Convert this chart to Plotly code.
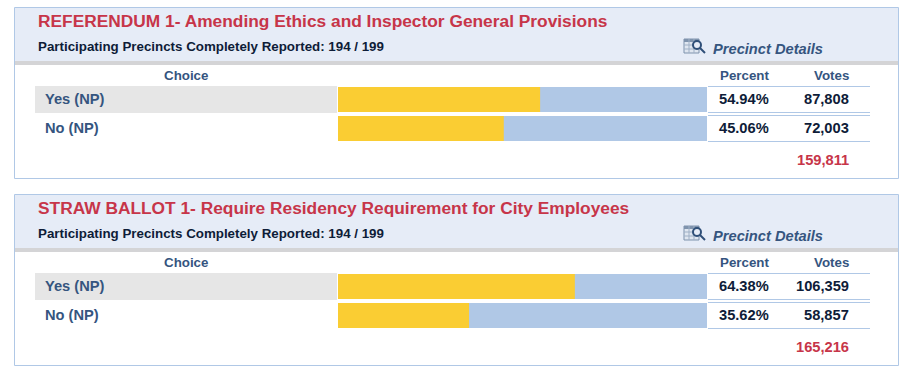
import plotly.graph_objects as go

W, H = 902, 371
TITLES = ["REFERENDUM 1- Amending Ethics and Inspector General Provisions",
          "STRAW BALLOT 1- Require Residency Requirement for City Employees"]
SUBTITLE = "Participating Precincts Completely Reported: 194 / 199"
LINK = "Precinct Details"
CHOICES = ["Yes (NP)", "No (NP)"]
PCT_1 = [54.94, 45.06]
PCT_2 = [64.38, 35.62]
VOTES_1 = ["87,808", "72,003"]
VOTES_2 = ["106,359", "58,857"]
TOTALS = ["159,811", "165,216"]
TRACK = 100.3

RED, NAVY, BLUE, INK = "#c73549", "#35557f", "#b0c8e6", "#0e1c38"
YELLOW, HEAD, BAND, ROW = "#facd33", "#e6ecf7", "#d4d4d6", "#e6e6e6"
FONT = "Liberation Sans, Arial, sans-serif"
px = lambda v: v / W
py = lambda v: 1 - v / H

shapes, notes = [], []

def rect(x0, y0, x1, y1, fill, line=None, width=1, layer="below"):
    shapes.append(dict(type="rect", xref="paper", yref="paper", x0=px(x0), x1=px(x1),
                       y0=py(y0), y1=py(y1), fillcolor=fill, layer=layer,
                       line=dict(color=line or fill, width=width if line else 0)))

def hline(x0, x1, y, color=BLUE, width=1, layer="below"):
    shapes.append(dict(type="line", xref="paper", yref="paper", x0=px(x0), x1=px(x1),
                       y0=py(y), y1=py(y), layer=layer, line=dict(color=color, width=width)))

def seg(x0, y0, x1, y1, color, width):
    shapes.append(dict(type="line", xref="paper", yref="paper", x0=px(x0), x1=px(x1),
                       y0=py(y0), y1=py(y1), layer="above", line=dict(color=color, width=width)))

def text(x, y, s, size, color, anchor="left", italic=False):
    notes.append(dict(x=px(x), y=py(y), xref="paper", yref="paper", text=s, showarrow=False,
                      xanchor=anchor, yanchor="middle", borderpad=0, borderwidth=0,
                      font=dict(family=FONT, size=size, color=color, weight="bold",
                                style="italic" if italic else "normal")))

def icon(dy):
    x0, y0 = 684, 39 + dy
    rect(x0, y0, x0 + 15, y0 + 14, "#dfe6f0", "#7f93ad", 1, "above")
    rect(x0, y0, x0 + 15, y0 + 3, "#7f93ad", None, 0, "above")
    for k in (5, 10):
        seg(x0 + k, y0, x0 + k, y0 + 14, "#9fb0c6", 1)
    for k in (6, 10):
        seg(x0, y0 + k, x0 + 15, y0 + k, "#9fb0c6", 1)
    shapes.append(dict(type="circle", xref="paper", yref="paper", layer="above",
                       x0=px(x0 + 9), x1=px(x0 + 17), y0=py(y0 + 10), y1=py(y0 + 2),
                       fillcolor="#e6ecf7", line=dict(color="#2f4f78", width=2)))
    seg(x0 + 16, y0 + 9, x0 + 21, y0 + 14, "#2f4f78", 2)

fig = go.Figure()
panels = [(PCT_1, VOTES_1, 0), (PCT_2, VOTES_2, 187)]
for i, (pct, votes, dy) in enumerate(panels):
    n = "" if i == 0 else "2"
    xa, ya = "x" + n, "y" + n
    rest = [TRACK] * len(CHOICES)
    fig.add_trace(go.Bar(x=rest, y=CHOICES, orientation="h", marker=dict(color=BLUE, line_width=0),
                         xaxis=xa, yaxis=ya, showlegend=False, hoverinfo="skip"))
    fig.add_trace(go.Bar(x=pct, y=CHOICES, orientation="h", marker=dict(color=YELLOW, line_width=0),
                         xaxis=xa, yaxis=ya, showlegend=False))
    common = dict(visible=False, fixedrange=True)
    fig.update_layout({
        "xaxis" + n: dict(domain=[px(338), px(707)], range=[0, TRACK], anchor=ya, **common),
        "yaxis" + n: dict(domain=[py(143 + dy), py(85 + dy)], range=[1.5, -0.5], anchor=xa,
                          type="category", **common),
    })
    rect(14.5, 7.5 + dy, 898.5, 178.5 + dy, "#ffffff", BLUE, 1)
    rect(15, 8 + dy, 898, 61 + dy, HEAD)
    rect(15, 61 + dy, 898, 65 + dy, BAND)
    rect(35, 86 + dy, 337, 113 + dy, ROW)
    hline(708, 870, 86.5 + dy)
    hline(708, 870, 112.5 + dy)
    hline(708, 870, 115.5 + dy)
    hline(708, 870, 141.5 + dy)
    icon(dy)
    text(38, 20.5 + dy, TITLES[i], 17.33, RED)
    text(38, 46.5 + dy, SUBTITLE, 13.33, INK)
    text(713, 49 + dy, LINK, 14.67, NAVY, italic=True)
    text(186, 75.5 + dy, "Choice", 13.33, NAVY, "center")
    text(769, 75.5 + dy, "Percent", 13.33, NAVY, "right")
    text(849, 75.5 + dy, "Votes", 13.33, NAVY, "right")
    for r, c in enumerate(CHOICES):
        y = 99 + 29 * r + dy
        text(45, y, c, 14.67, NAVY)
        text(769, y, f"{pct[r]:.2f}%", 14.67, INK, "right")
        text(849, y, votes[r], 14.67, INK, "right")
    text(849, 160 + dy, TOTALS[i], 14.67, RED, "right")

fig.update_layout(width=W, height=H, margin=dict(l=0, r=0, t=0, b=0), barmode="overlay",
                  bargap=4 / 29, paper_bgcolor="#ffffff", plot_bgcolor="rgba(0,0,0,0)",
                  shapes=shapes, annotations=notes, showlegend=False)
fig.write_html("out.html", config=dict(displayModeBar=False),
               post_script="document.body.style.margin='0';document.documentElement.style.overflow='hidden';")
